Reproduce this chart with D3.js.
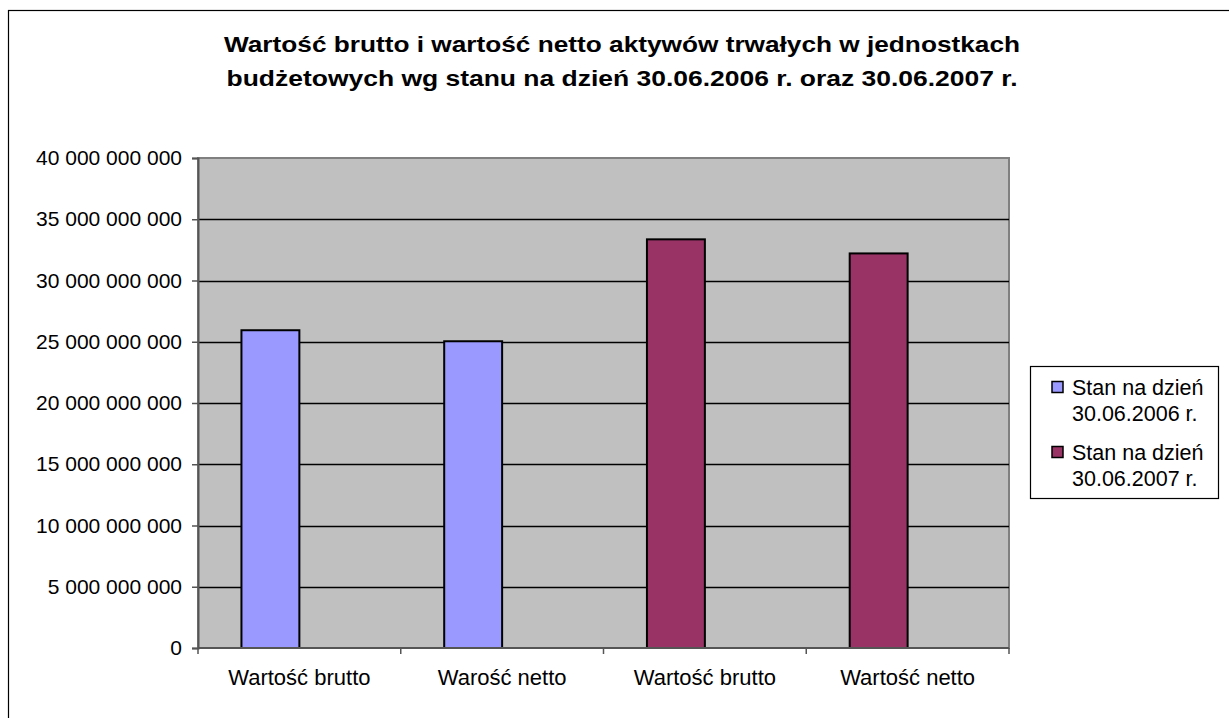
<!DOCTYPE html>
<html>
<head>
<meta charset="utf-8">
<script src="https://cdn.jsdelivr.net/npm/d3@7/dist/d3.min.js"></script>
<style>
  body { margin: 0; background: #fff; }
  text { font-family: "Liberation Sans", Arial, sans-serif; fill: #000; }
</style>
</head>
<body>
<svg id="chart" width="1229" height="718"></svg>
<script>
var titleLines = [
  "Wartość brutto i wartość netto aktywów trwałych w jednostkach",
  "budżetowych wg stanu na dzień 30.06.2006 r. oraz 30.06.2007 r."
];
var categories = ["Wartość brutto", "Warość netto", "Wartość brutto", "Wartość netto"];
var values = [25940000000, 25040000000, 33360000000, 32210000000];
var barSeries = [0, 0, 1, 1];
var seriesNames = [["Stan na dzień", "30.06.2006 r."], ["Stan na dzień", "30.06.2007 r."]];
var seriesColors = ["#9999ff", "#993366"];
var yTicks = [0, 5e9, 10e9, 15e9, 20e9, 25e9, 30e9, 35e9, 40e9];

function drawChart() {
  var svg = d3.select("#chart");

  /* plot area, in pixels */
  var pLeft = 198, pRight = 1009, pTop = 158, pBottom = 648;

  var locale = d3.formatLocale({ decimal: ",", thousands: " ", grouping: [3], currency: ["", ""] });
  var fmt = locale.format(",");

  var x = d3.scaleBand().domain(d3.range(categories.length)).range([pLeft, pRight]);
  // excel style cluster: two slots per category, gap width 150%
  var slot = d3.scaleBand().domain([0, 1]).range([0, x.bandwidth()]).paddingInner(0).paddingOuter(0.75);
  var y = d3.scaleLinear().domain([0, 40e9]).range([pBottom, pTop]);

  // chart area border (runs off the right and bottom edges)
  svg.append("rect").attr("x", 8.5).attr("y", 10.5).attr("width", 1240).attr("height", 730)
    .attr("fill", "#fff").attr("stroke", "#000").attr("stroke-width", 1.2);

  // title
  svg.selectAll("text.title").data(titleLines).enter().append("text")
    .attr("class", "title")
    .attr("x", 622).attr("y", function(d, i) { return 52 + i * 34; })
    .attr("text-anchor", "middle")
    .attr("font-size", 22).attr("font-weight", "bold")
    .attr("textLength", function(d, i) { return i == 0 ? 796 : 791; })
    .attr("lengthAdjust", "spacingAndGlyphs")
    .text(function(d) { return d; });

  // plot background
  svg.append("rect").attr("x", pLeft).attr("y", pTop).attr("width", pRight - pLeft).attr("height", pBottom - pTop)
    .attr("fill", "#c0c0c0").attr("stroke", "#808080").attr("stroke-width", 2);

  // gridlines
  svg.append("g").selectAll("line").data(yTicks.slice(1, -1)).enter().append("line")
    .attr("x1", pLeft).attr("x2", pRight)
    .attr("y1", function(d) { return Math.round(y(d)) + 0.5; })
    .attr("y2", function(d) { return Math.round(y(d)) + 0.5; })
    .attr("stroke", "#000").attr("stroke-width", 1.3);

  // bars
  svg.append("g").selectAll("rect").data(values).enter().append("rect")
    .attr("x", function(d, i) { return x(i) + slot(0); })
    .attr("width", slot.bandwidth())
    .attr("y", function(d) { return y(d); })
    .attr("height", function(d) { return y(0) - y(d); })
    .attr("fill", function(d, i) { return seriesColors[barSeries[i]]; })
    .attr("stroke", "#000").attr("stroke-width", 2);

  // y axis
  var yAxis = d3.axisLeft(y).tickValues(yTicks).tickFormat(fmt).tickSize(6).tickPadding(10);
  var ga = svg.append("g").attr("transform", "translate(" + pLeft + ",0)").call(yAxis);
  ga.select(".domain").attr("stroke", "#555").attr("stroke-width", 2);
  ga.selectAll(".tick line").attr("stroke", "#555").attr("stroke-width", 1.5);
  ga.selectAll(".tick text").attr("font-size", 21).attr("font-family", "Liberation Sans, Arial, sans-serif").attr("fill", "#000");

  // x axis: ticks on category boundaries
  var bounds = d3.range(categories.length + 1).map(function(i) { return pLeft + i * x.step(); });
  var gx = svg.append("g");
  gx.append("line").attr("x1", pLeft).attr("x2", pRight).attr("y1", pBottom).attr("y2", pBottom)
    .attr("stroke", "#555").attr("stroke-width", 2);
  gx.selectAll("line.tk").data(bounds).enter().append("line").attr("class", "tk")
    .attr("x1", function(d) { return d; }).attr("x2", function(d) { return d; })
    .attr("y1", pBottom).attr("y2", pBottom + 6)
    .attr("stroke", "#555").attr("stroke-width", 1.5);
  gx.selectAll("text").data(categories).enter().append("text")
    .attr("x", function(d, i) { return x(i) + x.bandwidth() / 2; })
    .attr("y", 685).attr("text-anchor", "middle").attr("font-size", 22)
    .text(function(d) { return d; });

  // legend
  var lg = svg.append("g");
  lg.append("rect").attr("x", 1030.5).attr("y", 366.5).attr("width", 188).attr("height", 132)
    .attr("fill", "#fff").attr("stroke", "#000").attr("stroke-width", 1.2);
  var items = lg.selectAll("g.item").data(seriesNames).enter().append("g").attr("class", "item")
    .attr("transform", function(d, i) { return "translate(0," + (387 + i * 65) + ")"; });
  items.append("rect").attr("x", 1052).attr("y", -5.5).attr("width", 11).attr("height", 11)
    .attr("fill", function(d, i) { return seriesColors[i]; }).attr("stroke", "#000").attr("stroke-width", 1.5);
  items.selectAll("text").data(function(d) { return d; }).enter().append("text")
    .attr("x", 1072).attr("y", function(d, j) { return j * 26; }).attr("dy", "0.36em")
    .attr("font-size", 21.5)
    .text(function(d) { return d; });
}

drawChart();
</script>
</body>
</html>
